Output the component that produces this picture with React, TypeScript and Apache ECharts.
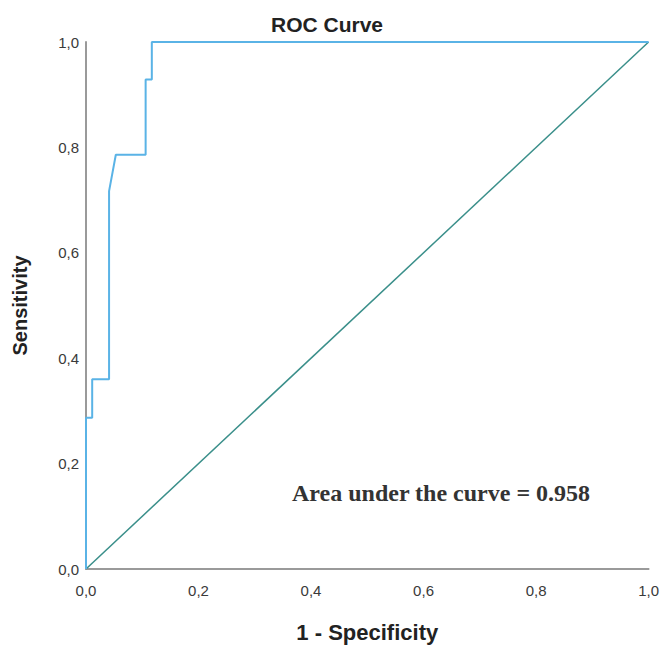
import React, { useEffect, useRef } from "react";
import * as echarts from "echarts";

const fpr = [0, 0, 0.011, 0.011, 0.041, 0.041, 0.053, 0.106, 0.106, 0.117, 0.117, 1];
const tpr = [0, 0.287, 0.287, 0.36, 0.36, 0.717, 0.786, 0.786, 0.929, 0.929, 1, 1];
const refX = [0, 1];
const refY = [0, 1];
const ticks = [0, 0.2, 0.4, 0.6, 0.8, 1.0];
const aucText = "Area under the curve = 0.958";

const fmt = (v: number) => v.toFixed(1).replace(".", ",");

export default function App() {
  const ref = useRef<HTMLDivElement>(null);
  useEffect(() => {
    const chart = echarts.init(ref.current!, null, { renderer: "svg" });
    chart.setOption({
      animation: false,
      backgroundColor: "#ffffff",
      title: {
        text: "ROC Curve",
        left: 322,
        top: 9,
        textAlign: "center",
        textStyle: { fontFamily: "Liberation Sans", fontWeight: "bold", fontSize: 21, color: "#222" },
      },
      grid: { left: 86, right: 10, top: 42, bottom: 73 },
      xAxis: {
        type: "value",
        min: 0,
        max: 1,
        interval: 0.2,
        name: "1 - Specificity",
        nameLocation: "middle",
        nameGap: 52,
        nameTextStyle: { fontFamily: "Liberation Sans", fontWeight: "bold", fontSize: 22, color: "#222" },
        axisLine: { lineStyle: { color: "#9a9a9a", width: 2 } },
        axisTick: { show: false },
        splitLine: { show: false },
        axisLabel: {
          formatter: (v: number) => fmt(v),
          fontFamily: "Liberation Sans",
          fontSize: 15,
          color: "#3a3a3a",
          margin: 14,
          customValues: ticks,
        },
      },
      yAxis: {
        type: "value",
        min: 0,
        max: 1,
        interval: 0.2,
        name: "Sensitivity",
        nameLocation: "middle",
        nameGap: 56,
        nameRotate: 90,
        nameTextStyle: { fontFamily: "Liberation Sans", fontWeight: "bold", fontSize: 20, color: "#222" },
        axisLine: { show: true, lineStyle: { color: "#9a9a9a", width: 2 } },
        axisTick: { show: false },
        splitLine: { show: false },
        axisLabel: {
          formatter: (v: number) => fmt(v),
          fontFamily: "Liberation Sans",
          fontSize: 15,
          color: "#3a3a3a",
          margin: 7,
        },
      },
      series: [
        {
          type: "line",
          data: refX.map((x, i) => [x, refY[i]]),
          showSymbol: false,
          lineStyle: { color: "#3a8f8a", width: 1.5 },
          z: 2,
        },
        {
          type: "line",
          data: fpr.map((x, i) => [x, tpr[i]]),
          showSymbol: false,
          lineStyle: { color: "#5ab3e6", width: 2 },
          z: 3,
        },
      ],
      graphic: [
        {
          type: "text",
          left: 292,
          top: 481,
          style: {
            text: aucText,
            fontFamily: "Liberation Serif",
            fontWeight: "bold",
            fontSize: 24,
            fill: "#333",
          },
        },
      ],
    });
    return () => chart.dispose();
  }, []);
  return <div ref={ref} style={{ width: 662, height: 648, position: "absolute", left: 0, top: 0 }} />;
}
